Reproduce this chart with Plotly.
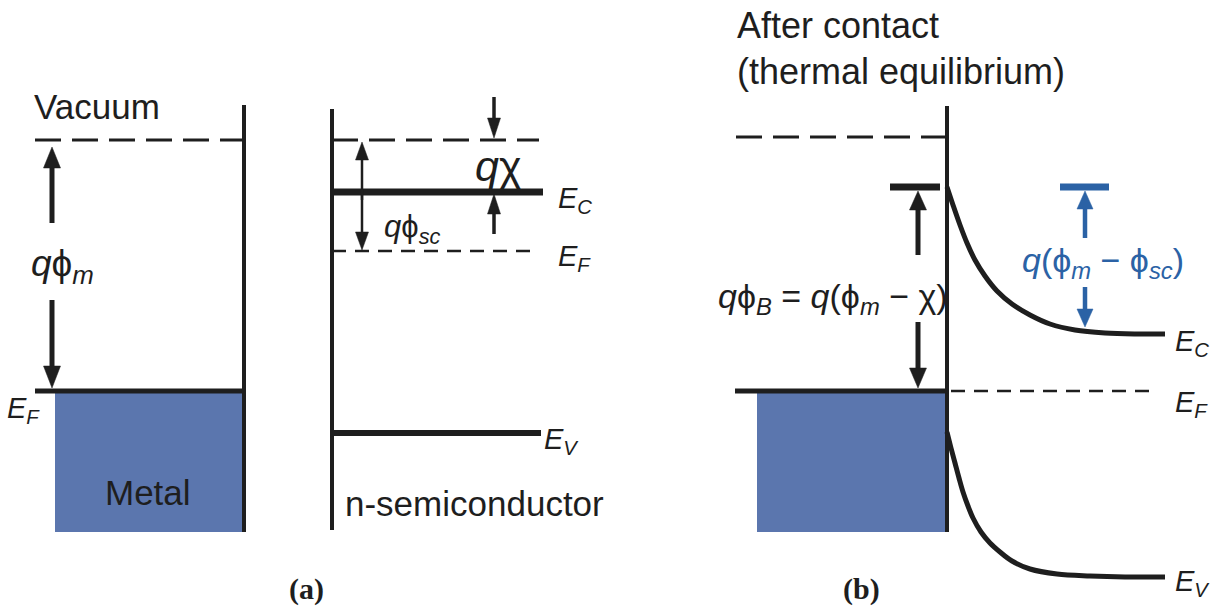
import plotly.graph_objects as go

W, H = 1221, 612
INK = "#1e1e1e"
METAL_FILL = "#5b76ae"
BLUE = "#2b62a5"
SANS = "Liberation Sans, Arial, sans-serif"
SERIF = "Liberation Serif, Times New Roman, serif"

# ---- (a) before contact: energy levels (diagram units, y grows downward) ----
vacuum_a_y = 140
metal_ef_a_y = 391
metal_x = [35, 244]          # metal EF line span; interface at right end
metal_box_a = [55, 244, 393, 532]
sc_x = [332, 541]
sc_ec_y = 192
sc_ef_y = 251
sc_ev_y = 433

# ---- (b) after contact ----
iface_b_x = 947
vacuum_b_y = 137
ef_b_y = 391
barrier_top_y = 187
metal_box_b = [757, 947, 393, 532]

# Band bending sampled along E_C and E_V on the semiconductor side
ec_x = [947, 953, 960, 967, 975, 985, 997, 1012, 1030, 1050, 1075, 1105, 1135, 1165]
ec_y = [187, 205, 225, 243, 260, 276, 291, 304, 315, 324, 330, 333, 334, 334]
ev_x = [947, 951, 955, 959, 963, 968, 973, 981, 990, 1000, 1012, 1030, 1057, 1090, 1125, 1165]
ev_y = [432, 448, 463, 478, 492, 506, 518, 532, 543, 552, 561, 569, 574, 576, 577, 577]

fig = go.Figure()
shapes = []
annotations = []


def line(x0, y0, x1, y1, width=4, color=INK, dash="solid"):
    shapes.append(dict(type="line", x0=x0, y0=y0, x1=x1, y1=y1, xref="x", yref="y",
                       line=dict(color=color, width=width, dash=dash), layer="above"))


def arrow(x, tail, tip, head_len=20, head_w=16, shaft=5, color=INK):
    d = 1 if tip > tail else -1
    base = tip - d * head_len
    line(x, tail, x, base + d * 1, width=shaft, color=color)
    shapes.append(dict(type="path", xref="x", yref="y",
                       path=f"M {x - head_w / 2},{base} L {x + head_w / 2},{base} L {x},{tip} Z",
                       fillcolor=color, line=dict(color=color, width=0.5), layer="above"))


def text(x, y, s, size, color=INK, family=SANS, xanchor="left", yanchor="middle"):
    annotations.append(dict(x=x, y=y, xref="x", yref="y", text=s, showarrow=False,
                            xanchor=xanchor, yanchor=yanchor,
                            font=dict(size=size, color=color, family=family)))


# ================= (a) =================
# metal block
shapes.append(dict(type="rect", x0=metal_box_a[0], x1=metal_box_a[1], y0=metal_box_a[2],
                   y1=metal_box_a[3], xref="x", yref="y", fillcolor=METAL_FILL,
                   line=dict(width=0), layer="below"))
line(metal_x[1], 105, metal_x[1], 532, width=4)
line(metal_x[0], vacuum_a_y, metal_x[1], vacuum_a_y, width=3, dash="26px,11px")
line(metal_x[0], metal_ef_a_y, metal_x[1], metal_ef_a_y, width=5)
arrow(52, 223, 147, head_len=21, head_w=17, shaft=5)
arrow(52, 300, 388, head_len=22, head_w=17, shaft=5)

text(32, 106, "Vacuum", 35)
text(29, 266, "<i>q</i>ϕ<sub><i>m</i></sub>", 37)
text(5, 410, "<i>E<sub>F</sub></i>", 29)
text(148, 492, "Metal", 35, xanchor="center")

# semiconductor
line(sc_x[0], 109, sc_x[0], 530, width=4)
line(sc_x[0], vacuum_a_y, 539, vacuum_a_y, width=3, dash="26px,11px")
line(sc_x[0], sc_ec_y, 543, sc_ec_y, width=7)
line(sc_x[0], sc_ef_y, 537, sc_ef_y, width=2.5, dash="14px,9px")
line(sc_x[0], sc_ev_y, sc_x[1], sc_ev_y, width=6)
arrow(362, 200, 142, head_len=18, head_w=13, shaft=2.5)
arrow(362, 190, 250, head_len=18, head_w=13, shaft=2.5)
arrow(494, 97, 138, head_len=20, head_w=13, shaft=3.5)
arrow(494, 234, 194, head_len=20, head_w=13, shaft=3.5)

text(473, 166, "<i>q</i>χ", 43)
text(382, 229, "<i>q</i>ϕ<sub><i>sc</i></sub>", 31)
text(556, 200, "<i>E<sub>C</sub></i>", 29)
text(556, 258, "<i>E<sub>F</sub></i>", 29)
text(542, 441, "<i>E<sub>V</sub></i>", 29)
text(343, 503, "n-semiconductor", 35)
text(306, 589, "<b>(a)</b>", 30, family=SERIF, xanchor="center")

# ================= (b) =================
shapes.append(dict(type="rect", x0=metal_box_b[0], x1=metal_box_b[1], y0=metal_box_b[2],
                   y1=metal_box_b[3], xref="x", yref="y", fillcolor=METAL_FILL,
                   line=dict(width=0), layer="below"))
line(iface_b_x, 106, iface_b_x, 532, width=4)
line(736, vacuum_b_y, iface_b_x, vacuum_b_y, width=3, dash="26px,11px")
line(735, ef_b_y, iface_b_x, ef_b_y, width=5)
line(951, ef_b_y, 1156, ef_b_y, width=2.5, dash="14px,9px")
line(890, barrier_top_y, 940, barrier_top_y, width=7)
arrow(918, 255, 191, head_len=19, head_w=17, shaft=5)
arrow(918, 322, 388, head_len=20, head_w=17, shaft=5)

line(1060, barrier_top_y, 1109, barrier_top_y, width=7, color=BLUE)
arrow(1085, 238, 191, head_len=18, head_w=16, shaft=4.5, color=BLUE)
arrow(1085, 287, 327, head_len=18, head_w=16, shaft=4.5, color=BLUE)

for xs, ys in ((ec_x, ec_y), (ev_x, ev_y)):
    fig.add_trace(go.Scatter(x=xs, y=ys, mode="lines", line=dict(color=INK, width=5, shape="spline", smoothing=1.0),
                             hoverinfo="skip", showlegend=False))

text(735, 25, "After contact", 36)
text(735, 71, "(thermal equilibrium)", 36)
text(716, 298, "<i>q</i>ϕ<sub><i>B</i></sub> = <i>q</i>(ϕ<sub><i>m</i></sub> − χ)", 34)
text(1020, 262, "<i>q</i>(ϕ<sub><i>m</i></sub> − ϕ<sub><i>sc</i></sub>)", 34, color=BLUE)
text(1173, 343, "<i>E<sub>C</sub></i>", 29)
text(1173, 404, "<i>E<sub>F</sub></i>", 29)
text(1173, 583, "<i>E<sub>V</sub></i>", 29)
text(861, 589, "<b>(b)</b>", 30, family=SERIF, xanchor="center")

fig.update_layout(
    width=W, height=H, margin=dict(l=0, r=0, t=0, b=0),
    paper_bgcolor="white", plot_bgcolor="white",
    xaxis=dict(range=[0, W], visible=False, fixedrange=True),
    yaxis=dict(range=[H, 0], visible=False, fixedrange=True),
    shapes=shapes, annotations=annotations, showlegend=False,
)

fig.write_html("out.html")
